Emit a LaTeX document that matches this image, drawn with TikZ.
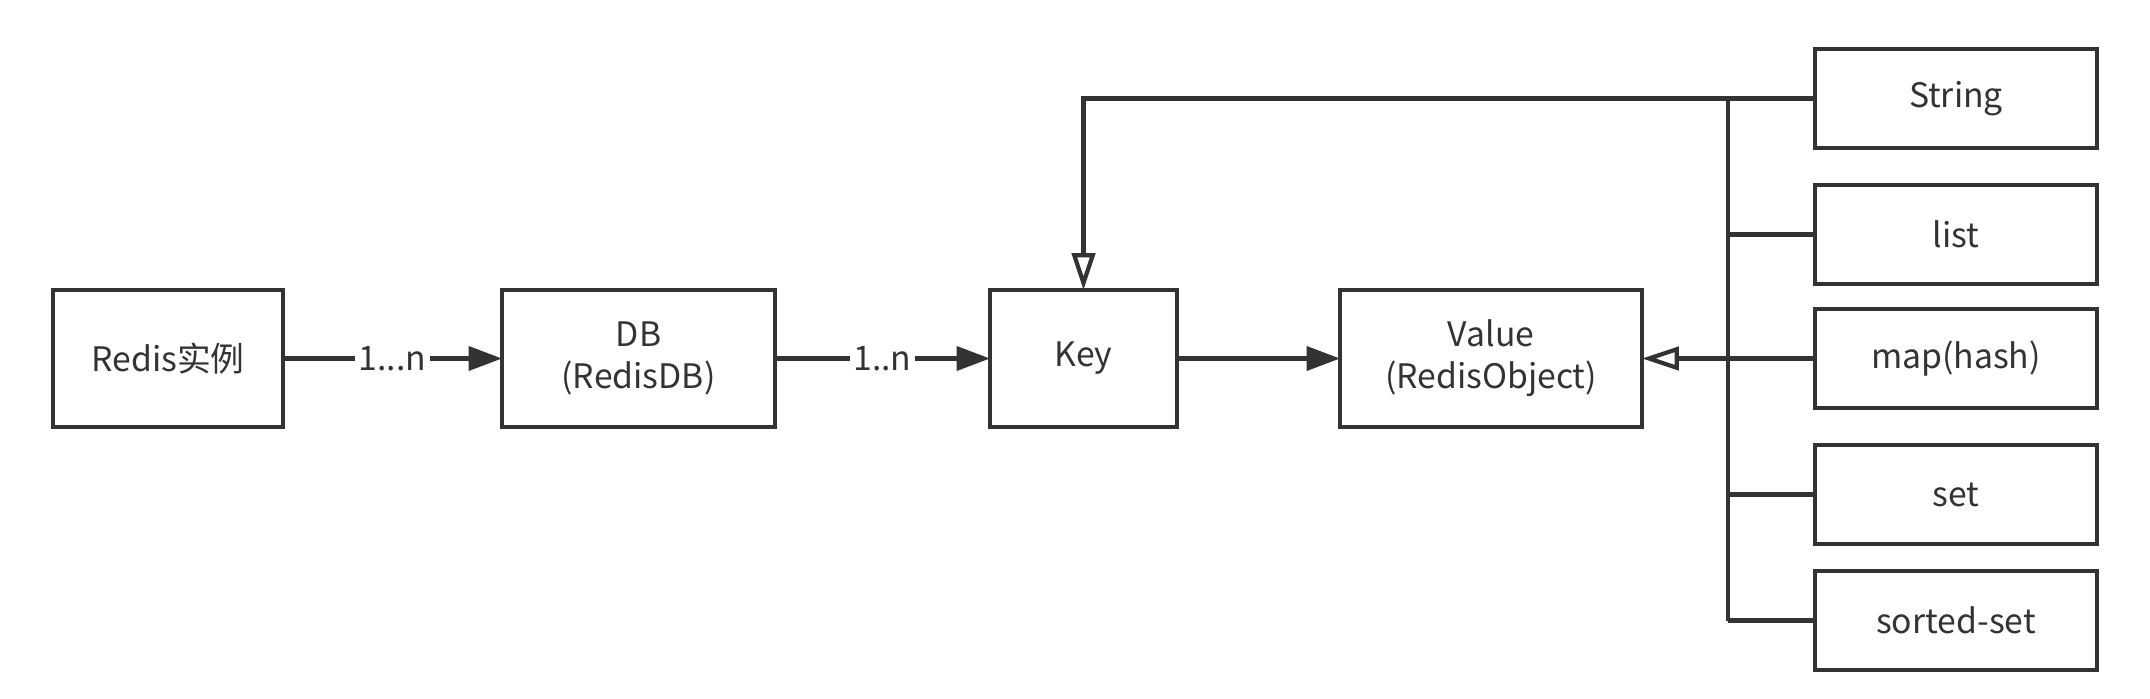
\documentclass[tikz,border=0pt]{standalone}
\usepackage{fontspec}
\setmainfont{Noto Sans CJK SC}
\usepackage{tikz}
\usetikzlibrary{arrows.meta, positioning}
\definecolor{ink}{HTML}{333333}

\begin{document}
\begin{tikzpicture}[line width=1.2pt, draw=ink, text=ink, font=\fontsize{9.6}{11.9}\selectfont,
    box/.style={draw=ink, line width=1.2pt, minimum height=1.37cm, align=center, outer sep=0pt},
    typebox/.style={box, minimum width=2.82cm, minimum height=0.99cm},
    lbl/.style={fill=white, inner sep=1pt},
    solidarrow/.style={draw=ink, -{Triangle[length=9.5pt, width=6.8pt]}},
    openarrow/.style={draw=ink, -{Triangle[open, length=10.5pt, width=6.6pt]}}]
        \useasboundingbox (0,0) rectangle (21.5,-6.98);

        \node[box, minimum width=2.30cm] (redis) at (1.68,-3.585) {Redis实例};
        \node[box, minimum width=2.73cm, right=2.19cm of redis] (db) {DB\\(RedisDB)};
        \node[box, minimum width=1.87cm, right=2.15cm of db] (key) {Key};
        \node[box, minimum width=3.02cm, right=1.63cm of key] (value) {Value\\(RedisObject)};

        \node[typebox, right=1.73cm of value] (map) {map(hash)};
        \node[typebox, above=0.25cm of map] (list) {list};
        \node[typebox, above=0.37cm of list] (string) {String};
        \node[typebox, below=0.37cm of map] (set) {set};
        \node[typebox, below=0.27cm of set] (sorted) {sorted-set};

        \draw[solidarrow] (redis) -- (db) node[midway, lbl] {1...n};
        \draw[solidarrow] (db) -- (key) node[midway, lbl] {1..n};
        \draw[solidarrow] (key) -- (value);

        % bus of the value types
        \coordinate (bustop) at (17.28,0 |- string.west);
        \coordinate (busbot) at (17.28,0 |- sorted.west);
        \draw[ink] (bustop) -- (busbot);
        \foreach \t in {list, set, sorted}
            \draw[ink] (\t.west) -- (\t.west -| bustop);
        \draw[openarrow] (map) -- (value);
        \draw[openarrow] (string.west) -| (key.north);
    \end{tikzpicture}
\end{document}
